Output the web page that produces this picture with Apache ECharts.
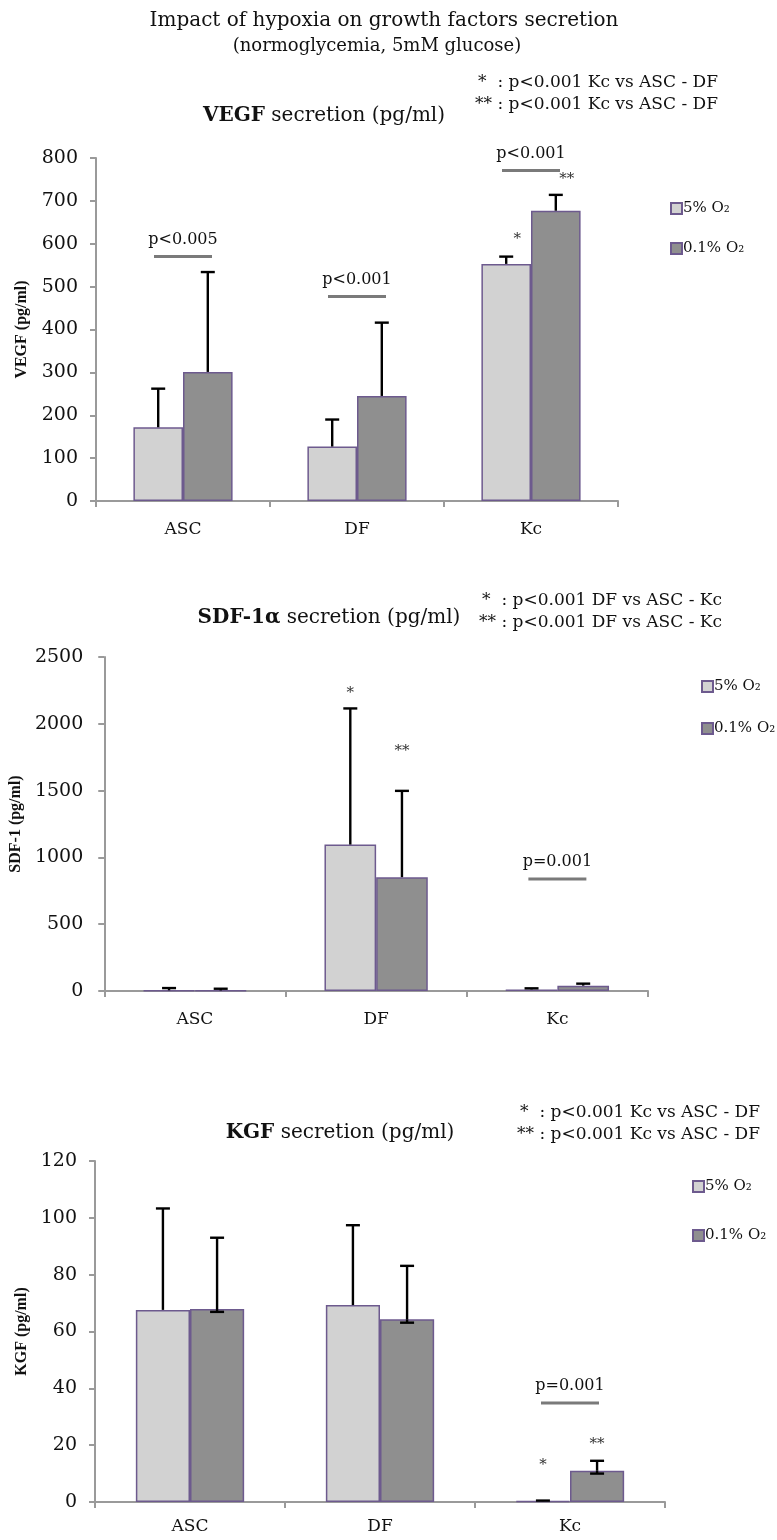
<!DOCTYPE html>
<html>
<head>
<meta charset="utf-8">
<script src="https://cdn.jsdelivr.net/npm/echarts@6/dist/echarts.min.js"></script>
<style>
html,body{margin:0;padding:0;background:#fff;}
#chart{width:777px;height:1540px;}
</style>
</head>
<body>
<div id="chart"></div>
<script>
// ---------- data ----------
const categories = ['ASC', 'DF', 'Kc'];
const seriesNames = ['5% O\u2082', '0.1% O\u2082'];

const vegf5 = [172, 127, 553];
const vegf5High = [262, 190, 570];
const vegf01 = [301, 245, 677];
const vegf01High = [534, 416, 714];

const sdf5 = [5, 1096, 12];
const sdf5High = [22, 2115, 20];
const sdf01 = [4, 852, 40];
const sdf01High = [17, 1498, 55];

const kgf5 = [67.6, 69.3, 0.3];
const kgf5High = [103.3, 97.4, 0.5];
const kgf01 = [67.9, 64.3, 11.0];
const kgf01High = [93.0, 83.1, 14.5];
const kgf01Low = [66.9, 63.1, 10.0];

const vegfTicks = [0, 800, 100];
const sdfTicks = [0, 2500, 500];
const kgfTicks = [0, 120, 20];

// significance brackets: [categoryIndex, value, label]
const vegfSig = [[0, 570, 'p<0.005'], [1, 477, 'p<0.001'], [2, 771, 'p<0.001']];
const sdfSig = [[2, 839, 'p=0.001']];
const kgfSig = [[2, 34.8, 'p=0.001']];
// asterisks: [categoryIndex, seriesIndex, value, label]
const vegfStars = [[2, 0, 610, '*'], [2, 1, 751, '**']];
const sdfStars = [[1, 0, 2230, '*'], [1, 1, 1793, '**']];
const kgfStars = [[2, 0, 13.1, '*'], [2, 1, 20.4, '**']];

// ---------- styling ----------
const SERIF = '"DejaVu Serif", "Liberation Serif", serif';
const TIMES = '"Liberation Serif", serif';
const GAP = 0.43;
const LIGHT = '#d2d2d2', DARK = '#8f8f8f', BORDER = '#6d5a8e', AXIS = '#9a9a9a';

const chart = echarts.init(document.getElementById('chart'), null, {renderer: 'canvas'});

const grids = [
  {left: 96, top: 158, width: 522, height: 343},
  {left: 101, top: 657, width: 547, height: 334},
  {left: 95, top: 1161, width: 570, height: 341}
];
const yNames = ['VEGF (pg/ml)', 'SDF-1 (pg/ml)', 'KGF (pg/ml)'];
const yGaps = [66, 64, 64];
const yMargins = [18, 21, 18];
const xMargins = [20, 20, 16];
const ticks = [vegfTicks, sdfTicks, kgfTicks];

function barOffset(api, side) {
  const band = api.size([1, 0])[0];
  const bw = band * (1 - GAP) / 2;
  return side === 0 ? -bw / 2 : bw / 2;
}

function errorSeries(gi, side, vals, highs, lows) {
  return {
    type: 'custom', xAxisIndex: gi, yAxisIndex: gi, z: 5, silent: true,
    data: vals.map((v, i) => [i, v, highs[i]]),
    renderItem: function (params, api) {
      const i = params.dataIndex;
      const p0 = api.coord([i, vals[i]]);
      const x = p0[0] + barOffset(api, side);
      const yh = api.coord([i, highs[i]])[1];
      const st = {stroke: '#000', lineWidth: 2.4};
      const ch = [
        {type: 'line', shape: {x1: x, y1: p0[1], x2: x, y2: yh}, style: st},
        {type: 'line', shape: {x1: x - 7, y1: yh, x2: x + 7, y2: yh}, style: st}
      ];
      if (lows && lows[i] != null) {
        const yl = api.coord([i, lows[i]])[1];
        ch.push({type: 'line', shape: {x1: x, y1: p0[1], x2: x, y2: yl}, style: st});
        ch.push({type: 'line', shape: {x1: x - 7, y1: yl, x2: x + 7, y2: yl}, style: st});
      }
      return {type: 'group', children: ch};
    }
  };
}

function sigSeries(gi, sig) {
  return {
    type: 'custom', xAxisIndex: gi, yAxisIndex: gi, z: 6, silent: true,
    data: sig.map(s => [s[0], s[1]]),
    renderItem: function (params, api) {
      const s = sig[params.dataIndex];
      const p = api.coord([s[0], s[1]]);
      return {type: 'group', children: [
        {type: 'line', shape: {x1: p[0] - 29, y1: p[1], x2: p[0] + 29, y2: p[1]},
         style: {stroke: '#7a7a7a', lineWidth: 3}},
        {type: 'text', x: p[0], y: p[1] - 9,
         style: {text: s[2], fill: '#111', font: '16px ' + SERIF, textAlign: 'center', textVerticalAlign: 'bottom'}}
      ]};
    }
  };
}

function starSeries(gi, stars, dx) {
  return {
    type: 'custom', xAxisIndex: gi, yAxisIndex: gi, z: 6, silent: true,
    data: stars.map(s => [s[0], s[2]]),
    renderItem: function (params, api) {
      const s = stars[params.dataIndex];
      const p = api.coord([s[0], s[2]]);
      const x = p[0] + barOffset(api, s[1]) + dx;
      return {type: 'text', x: x, y: p[1],
        style: {text: s[3], fill: '#333', font: '15px ' + SERIF, textAlign: 'center', textVerticalAlign: 'middle'}};
    }
  };
}

function barSeries(gi, side, vals) {
  return {
    name: seriesNames[side], type: 'bar', xAxisIndex: gi, yAxisIndex: gi,
    data: vals, barGap: '0%', barCategoryGap: (GAP * 100) + '%',
    itemStyle: {color: side === 0 ? LIGHT : DARK, borderColor: BORDER, borderWidth: 1.5},
    emphasis: {disabled: true}, animation: false
  };
}

const xAxes = grids.map((g, gi) => ({
  type: 'category', gridIndex: gi, data: categories,
  axisLine: {show: true, lineStyle: {color: AXIS, width: 2}},
  axisTick: {show: true, alignWithLabel: false, length: 6, lineStyle: {color: AXIS, width: 2}},
  axisLabel: {color: '#111', fontFamily: SERIF, fontSize: 17, margin: xMargins[gi]},
  splitLine: {show: false}
}));
const yAxes = grids.map((g, gi) => ({
  type: 'value', gridIndex: gi, min: ticks[gi][0], max: ticks[gi][1], interval: ticks[gi][2],
  name: yNames[gi], nameLocation: 'middle', nameRotate: 90, nameGap: yGaps[gi],
  nameTextStyle: {fontFamily: TIMES, fontWeight: 'bold', fontSize: 16, color: '#111'},
  axisLine: {show: true, lineStyle: {color: AXIS, width: 2}},
  axisTick: {show: true, length: 6, lineStyle: {color: AXIS, width: 2}},
  axisLabel: {color: '#111', fontFamily: SERIF, fontSize: 19, margin: yMargins[gi], formatter: v => String(v)},
  splitLine: {show: false}
}));

function legend(left, top, gap) {
  return {
    data: seriesNames, orient: 'vertical', left: left, top: top, itemGap: gap,
    itemWidth: 11, itemHeight: 11, icon: 'rect', selectedMode: false, padding: 0,
    textStyle: {fontFamily: SERIF, fontSize: 15, color: '#111', padding: [0, 0, 0, -4]}
  };
}

const rich = {b: {fontFamily: SERIF, fontWeight: 'bold', fontSize: 20, color: '#111'}};
function panelTitle(text, x, y) {
  return {text: text, left: x, top: y, textAlign: 'center', padding: 0,
    textStyle: {fontFamily: SERIF, fontWeight: 'normal', fontSize: 20, color: '#111', rich: rich}};
}
function note(text, x, y) {
  return {text: text, left: x, top: y, textAlign: 'right', padding: 0,
    textStyle: {fontFamily: SERIF, fontWeight: 'normal', fontSize: 17, color: '#111', lineHeight: 22}};
}

const option = {
  backgroundColor: '#fff',
  animation: false,
  title: [
    {text: 'Impact of hypoxia on growth factors secretion', left: 384, top: 11, textAlign: 'center', padding: 0,
     textStyle: {fontFamily: SERIF, fontWeight: 'normal', fontSize: 20, color: '#111'}},
    {text: '(normoglycemia, 5mM glucose)', left: 377, top: 37, textAlign: 'center', padding: 0,
     textStyle: {fontFamily: SERIF, fontWeight: 'normal', fontSize: 18, color: '#111'}},
    panelTitle('{b|VEGF} secretion (pg/ml)', 324, 106),
    note('*  : p<0.001 Kc vs ASC - DF\n** : p<0.001 Kc vs ASC - DF', 718, 72),
    panelTitle('{b|SDF-1\u03b1} secretion (pg/ml)', 329, 608),
    note('*  : p<0.001 DF vs ASC - Kc\n** : p<0.001 DF vs ASC - Kc', 722, 590),
    panelTitle('{b|KGF} secretion (pg/ml)', 340, 1123),
    note('*  : p<0.001 Kc vs ASC - DF\n** : p<0.001 Kc vs ASC - DF', 760, 1102)
  ],
  legend: [legend(670, 201, 25), legend(701, 679, 27), legend(692, 1179, 34)],
  grid: grids,
  xAxis: xAxes,
  yAxis: yAxes,
  series: [
    barSeries(0, 0, vegf5), barSeries(0, 1, vegf01),
    barSeries(1, 0, sdf5), barSeries(1, 1, sdf01),
    barSeries(2, 0, kgf5), barSeries(2, 1, kgf01),
    errorSeries(0, 0, vegf5, vegf5High), errorSeries(0, 1, vegf01, vegf01High),
    errorSeries(1, 0, sdf5, sdf5High), errorSeries(1, 1, sdf01, sdf01High),
    errorSeries(2, 0, kgf5, kgf5High), errorSeries(2, 1, kgf01, kgf01High, kgf01Low),
    sigSeries(0, vegfSig), sigSeries(1, sdfSig), sigSeries(2, kgfSig),
    starSeries(0, vegfStars, 11), starSeries(1, sdfStars, 0), starSeries(2, kgfStars, 0)
  ]
};
chart.setOption(option);
</script>
</body>
</html>
